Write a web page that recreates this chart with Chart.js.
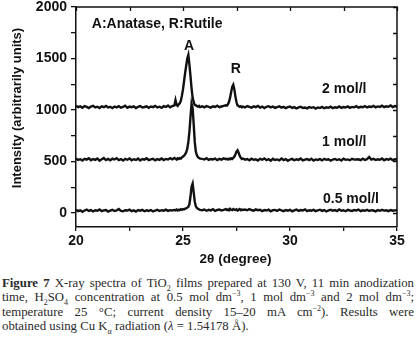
<!DOCTYPE html>
<html>
<head>
<meta charset="utf-8">
<script src="https://cdn.jsdelivr.net/npm/chart.js@4.4.1/dist/chart.umd.min.js"></script>
<style>
  html, body { margin: 0; padding: 0; background: #fff; }
  #wrap { position: relative; width: 416px; height: 346px; overflow: hidden; background: #fff; }
  #plotBox { position: absolute; left: 0; top: 0; width: 416px; height: 268px; }
  .cap { position: absolute; left: 2px; top: 276px; width: 412px; color: #2a2a2a;
         font-family: 'Liberation Serif', 'DejaVu Serif', serif; font-size: 12.8px; line-height: 14.3px; }
  .cap div { text-align: justify; text-align-last: justify; white-space: nowrap; }
  .cap div.last { text-align-last: left; }
  .cap sub, .cap sup { font-size: 8px; line-height: 0; }
</style>
</head>
<body>
<div id="wrap">
  <div id="plotBox"><canvas id="xrd"></canvas></div>
  <div class="cap">
    <div><b>Figure 7</b> X-ray spectra of TiO<sub>2</sub> films prepared at 130 V, 11 min anodization</div>
    <div>time, H<sub>2</sub>SO<sub>4</sub> concentration at 0.5 mol dm<sup>−3</sup>, 1 mol dm<sup>−3</sup> and 2 mol dm<sup>−3</sup>;</div>
    <div>temperature 25 °C; current density 15–20 mA cm<sup>−2</sup>). Results were</div>
    <div class="last">obtained using Cu K<sub>α</sub> radiation (<i>λ</i> = 1.54178 Å).</div>
  </div>
</div>
<script>
// 2-theta grid (denser around the A and R peaks)
const twoTheta = [
  20, 20.1, 20.2, 20.3, 20.4, 20.5, 20.6, 20.7, 20.8, 20.9,
  21, 21.1, 21.2, 21.3, 21.4, 21.5, 21.6, 21.7, 21.8, 21.9,
  22, 22.1, 22.2, 22.3, 22.4, 22.5, 22.6, 22.7, 22.8, 22.9,
  23, 23.1, 23.2, 23.3, 23.4, 23.5, 23.6, 23.7, 23.8, 23.9,
  24, 24.1, 24.2, 24.3, 24.4, 24.5, 24.6,
  24.65, 24.7, 24.75, 24.8, 24.85, 24.9, 24.95, 25, 25.05, 25.1, 25.15, 25.2,
  25.25, 25.3, 25.35, 25.4, 25.45, 25.5, 25.55, 25.6, 25.65, 25.7, 25.75, 25.8,
  25.9, 26, 26.1, 26.2, 26.3, 26.4, 26.5, 26.6, 26.7, 26.8, 26.9, 27,
  27.05, 27.1, 27.15, 27.2, 27.25, 27.3, 27.35, 27.4, 27.45, 27.5, 27.55, 27.6,
  27.65, 27.7, 27.75, 27.8,
  27.9, 28, 28.1, 28.2, 28.3, 28.4, 28.5, 28.6, 28.7, 28.8, 28.9,
  29, 29.1, 29.2, 29.3, 29.4, 29.5, 29.6, 29.7, 29.8, 29.9,
  30, 30.1, 30.2, 30.3, 30.4, 30.5, 30.6, 30.7, 30.8, 30.9,
  31, 31.1, 31.2, 31.3, 31.4, 31.5, 31.6, 31.7, 31.8, 31.9,
  32, 32.1, 32.2, 32.3, 32.4, 32.5, 32.6, 32.7, 32.8, 32.9,
  33, 33.1, 33.2, 33.3, 33.4, 33.5, 33.6, 33.7, 33.8, 33.9,
  34, 34.1, 34.2, 34.3, 34.4, 34.5, 34.6, 34.7, 34.8, 34.9, 35,
];

const mol2 = [
  1040, 1028, 1035, 1022, 1038, 1030, 1019, 1033, 1041, 1025,
  1032, 1020, 1036, 1027, 1039, 1024, 1031, 1018, 1034, 1026,
  1037, 1023, 1030, 1042, 1021, 1033, 1027, 1035, 1019, 1031,
  1038, 1024, 1029, 1036, 1022, 1034, 1028, 1040, 1025, 1032,
  1021, 1037, 1030, 1043, 1026, 1038, 1045,
  1095, 1050, 1040, 1055, 1065, 1090, 1140, 1200, 1280, 1360, 1430, 1500,
  1535, 1440, 1330, 1210, 1120, 1075, 1050, 1045, 1038, 1032, 1040, 1028,
  1035, 1026, 1039, 1030, 1023, 1036, 1029, 1041, 1027, 1034, 1040, 1046,
  1042, 1055, 1080, 1120, 1175, 1225, 1245, 1200, 1130, 1075, 1045, 1038,
  1030, 1036, 1027, 1033,
  1025, 1038, 1030, 1022, 1035, 1028, 1040, 1024, 1033, 1019,
  1031, 1037, 1026, 1034, 1021, 1029, 1036, 1023, 1030, 1018,
  1027, 1033, 1020, 1028, 1015, 1026, 1031, 1019, 1024, 1016,
  1029, 1021, 1027, 1014, 1025, 1019, 1030, 1017, 1026, 1021,
  1032, 1018, 1027, 1022, 1034, 1020, 1029, 1024, 1035, 1021,
  1030, 1026, 1037, 1023, 1031, 1027, 1038, 1025, 1033, 1029,
  1040, 1026, 1035, 1030, 1042, 1027, 1036, 1031, 1044, 1029,
  1038, 1033,
];

const mol1 = [
  528, 515, 522, 510, 526, 518, 531, 512, 524, 516,
  529, 508, 521, 533, 514, 525, 511, 527, 519, 532,
  513, 523, 509, 526, 517, 530, 512, 522, 515, 528,
  510, 524, 518, 531, 513, 521, 527, 511, 523, 516,
  529, 514, 525, 519, 532, 521, 535,
  527, 518, 530, 524, 533, 528, 540, 548, 556, 570, 590, 625,
  690, 790, 930, 1060, 1020, 860, 690, 595, 560, 542, 535, 528,
  526, 519, 531, 515, 524, 520, 529, 513, 525, 518, 530, 522,
  526, 519, 528, 522, 531, 525, 535, 548, 570, 595, 608, 585,
  555, 535, 524, 529,
  518, 524, 512, 527, 516, 521, 509, 525, 517, 530,
  513, 522, 508, 526, 515, 520, 511, 528, 514, 523,
  507, 519, 525, 512, 521, 516, 529, 510, 518, 524,
  513, 527, 509, 520, 515, 523, 511, 526, 517, 521,
  508, 519, 525, 514, 522, 510, 528, 516, 520, 512,
  526, 518, 520, 521, 513, 527, 515, 523, 544, 519,
  526, 514, 521, 517, 529, 512, 524, 518, 527, 513,
  522, 519,
];

const mol05 = [
  30, 18, 26, 12, 24, 33, 20, 28, 15, 27,
  22, 35, 17, 25, 29, 14, 23, 31, 19, 26,
  38, 21, 16, 27, 24, 32, 18, 25, 13, 28,
  22, 30, 17, 26, 20, 29, 15, 24, 31, 19,
  27, 23, 33, 21, 28, 25, 30,
  26, 33, 24, 31, 27, 36, 30, 38, 34, 42, 45, 52,
  60, 85, 160, 255, 285, 200, 110, 65, 48, 40, 34, 30,
  27, 34, 22, 31, 25, 36, 20, 29, 33, 24, 30, 37,
  28, 35, 26, 40, 31, 27, 38, 33, 29, 36, 24, 32,
  39, 27, 34, 30,
  33, 26, 38, 29, 22, 35, 27, 31, 19, 28,
  24, 32, 17, 27, 30, 21, 34, 25, 18, 29,
  23, 31, 16, 26, 33, 20, 28, 24, 35, 19,
  27, 22, 30, 18, 25, 32, 21, 29, 15, 26,
  31, 23, 28, 19, 34, 22, 27, 17, 30, 24,
  20, 29, 25, 33, 18, 26, 22, 31, 19, 27,
  24, 16, 28, 21, 30, 23, 26, 18, 29, 22,
  25, 27,
];

const seriesNames = ['2 mol/l', '1 mol/l', '0.5 mol/l'];
const xTicks = [20, 22.5, 25, 27.5, 30, 32.5, 35];
const xLabels = [20, 25, 30, 35];
const yTicks = [0, 250, 500, 750, 1000, 1250, 1500, 1750, 2000];
const yLabels = [0, 500, 1000, 1500, 2000];

// text placed inside the plot, in data coordinates
const notes = [
  { text: 'A:Anatase, R:Rutile', x: 20.74, y: 1835, align: 'left' },
  { text: 'A', x: 25.28, y: 1620, align: 'center' },
  { text: 'R', x: 27.47, y: 1398, align: 'center' },
  { text: seriesNames[0], x: 31.5, y: 1204, align: 'left' },
  { text: seriesNames[1], x: 31.5, y: 689, align: 'left' },
  { text: seriesNames[2], x: 31.54, y: 136, align: 'left' },
];

const INK = '#111';
const SANS = "'Liberation Sans', Arial, Helvetica, sans-serif";

const toPoints = (ys) => twoTheta.map((x, i) => ({ x, y: ys[i] }));

/** mirrored frame: top and right border with inward ticks */
const framePlugin = {
  id: 'frame',
  afterDraw: (chart) => {
    const { ctx, chartArea: a, scales } = chart;
    ctx.save();
    ctx.strokeStyle = INK;
    ctx.lineWidth = 1.5;
    ctx.beginPath();
    ctx.moveTo(a.left, a.top); ctx.lineTo(a.right, a.top); ctx.lineTo(a.right, a.bottom);
    ctx.stroke();
    ctx.lineWidth = 1.3;
    ctx.beginPath();
    xTicks.forEach((v) => {
      const px = Math.round(scales.x.getPixelForValue(v)) + 0.5;
      ctx.moveTo(px, a.top); ctx.lineTo(px, a.top + 4);
    });
    yTicks.forEach((v) => {
      const py = Math.round(scales.y.getPixelForValue(v)) + 0.5;
      ctx.moveTo(a.right, py); ctx.lineTo(a.right - 4, py);
    });
    ctx.stroke();
    ctx.restore();
  },
};

const labelPlugin = {
  id: 'labels',
  afterDraw: (chart) => {
    const { ctx, chartArea: a, scales } = chart;
    ctx.save();
    ctx.fillStyle = INK;
    ctx.textBaseline = 'middle';
    ctx.font = `bold 14px ${SANS}`;
    notes.forEach((n) => {
      ctx.textAlign = n.align;
      ctx.fillText(n.text, scales.x.getPixelForValue(n.x), scales.y.getPixelForValue(n.y));
    });
    // axis titles
    ctx.font = `bold 13.5px ${SANS}`;
    ctx.textAlign = 'center';
    ctx.fillText('2θ (degree)', (a.left + a.right) / 2 - 1, 259);
    ctx.translate(17, 108);
    ctx.rotate(-Math.PI / 2);
    ctx.font = `bold 13px ${SANS}`;
    ctx.fillText('Intensity (arbitrarily units)', 0, 0);
    ctx.restore();
  },
};

new Chart(document.getElementById('xrd'), {
  type: 'line',
  data: {
    datasets: [mol2, mol1, mol05].map((ys, i) => ({
      label: seriesNames[i],
      data: toPoints(ys),
      borderColor: INK,
      borderWidth: 2.4,
      pointRadius: 0,
      tension: 0,
      fill: false,
    })),
  },
  plugins: [framePlugin, labelPlugin],
  options: {
    responsive: true,
    maintainAspectRatio: false,
    animation: false,
    layout: { padding: { left: 0, right: 19, top: 0, bottom: 0 } },
    plugins: { legend: { display: false }, tooltip: { enabled: false } },
    scales: {
      x: {
        type: 'linear', min: 20, max: 35,
        afterBuildTicks: (s) => { s.ticks = xTicks.map((v) => ({ value: v })); },
        afterFit: (s) => { s.height = 41; },
        ticks: {
          color: INK, padding: 2, autoSkip: false, maxRotation: 0,
          font: { family: SANS, size: 14, weight: 'bold' },
          callback: (v) => (xLabels.includes(v) ? String(v) : ''),
        },
        grid: { display: true, drawOnChartArea: false, drawTicks: true, tickLength: 4, color: INK, lineWidth: 1.3 },
        border: { display: true, color: INK, width: 1.5 },
      },
      y: {
        type: 'linear', min: -136, max: 2000,
        afterBuildTicks: (s) => { s.ticks = yTicks.map((v) => ({ value: v })); },
        afterFit: (s) => { s.width = 76; s.paddingTop = 7; s.paddingBottom = 0; },
        ticks: {
          color: INK, padding: 4, autoSkip: false,
          font: { family: SANS, size: 14, weight: 'bold' },
          callback: (v) => (yLabels.includes(v) ? String(v) : ''),
        },
        grid: { display: true, drawOnChartArea: false, drawTicks: true, tickLength: 5, color: INK, lineWidth: 1.3 },
        border: { display: true, color: INK, width: 1.5 },
      },
    },
  },
});
</script>
</body>
</html>
